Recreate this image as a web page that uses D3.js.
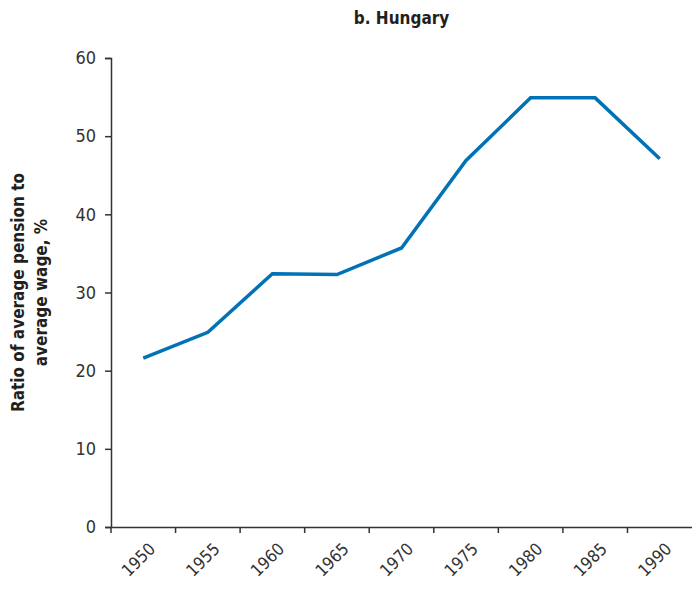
<!DOCTYPE html>
<html>
<head>
<meta charset="utf-8">
<script src="https://cdn.jsdelivr.net/npm/d3@7"></script>
<style>
  body { margin: 0; background: #fff; }
  svg text { font-family: "Liberation Sans Narrow", "DejaVu Sans Condensed", sans-serif; }
</style>
</head>
<body>
<div id="container"></div>
<script>
// values (panel b, Hungary)
var years = ["1950", "1955", "1960", "1965", "1970", "1975", "1980", "1985", "1990"];
var ratio = [21.6, 24.9, 32.4, 32.3, 35.7, 46.9, 54.9, 54.9, 47.1];
var yTicks = [0, 10, 20, 30, 40, 50, 60];

var width = 692, height = 590;
var margin = {top: 58, right: 0, bottom: 63, left: 111};

var data = years.map(function(y, i) { return {year: y, value: ratio[i]}; });

var svg = d3.select("#container").append("svg")
  .attr("width", width)
  .attr("height", height);

var xScale = d3.scaleBand().domain(years)
  .range([margin.left, width - margin.right])
  .paddingInner(0).paddingOuter(0);
var yScale = d3.scaleLinear().domain([0, 60])
  .range([height - margin.bottom, margin.top]);

var bw = xScale.bandwidth();

// title
svg.append("text")
  .attr("x", (margin.left + width - margin.right) / 2)
  .attr("y", 24)
  .attr("text-anchor", "middle")
  .style("font-size", "17px")
  .style("font-weight", "bold")
  .style("fill", "#231f20")
  .text("b. Hungary");

// y axis
var yAxis = d3.axisLeft(yScale).tickValues(yTicks).tickSize(6).tickPadding(9);
var gy = svg.append("g")
  .attr("transform", "translate(" + margin.left + ",0)")
  .call(yAxis);
gy.select(".domain").attr("stroke", "#333").attr("stroke-width", 1.5);
gy.selectAll(".tick line").attr("stroke", "#333").attr("stroke-width", 1.5);
gy.selectAll(".tick text")
  .style("font-size", "18px")
  .style("fill", "#333");

// x axis - ticks sit on band edges, labels on band centres
var xAxis = d3.axisBottom(xScale).tickSize(6).tickSizeOuter(0);
var gx = svg.append("g")
  .attr("transform", "translate(0," + (height - margin.bottom) + ")")
  .call(xAxis);
gx.select(".domain").attr("stroke", "#333").attr("stroke-width", 1.5);
gx.selectAll(".tick line")
  .attr("stroke", "#333").attr("stroke-width", 1.5)
  .attr("transform", "translate(" + (-bw / 2) + ",0)");
gx.selectAll(".tick text")
  .attr("x", 0).attr("y", 0).attr("dy", 0)
  .attr("text-anchor", "end")
  .attr("transform", "translate(13,23) rotate(-45)")
  .style("font-size", "17px")
  .style("fill", "#333");

// y label
var yl = svg.append("text")
  .attr("transform", "translate(24," + yScale(30) + ") rotate(-90)")
  .attr("text-anchor", "middle")
  .style("font-size", "17px")
  .style("font-weight", "bold")
  .style("fill", "#231f20");
yl.append("tspan").attr("x", 0).attr("dy", 0).text("Ratio of average pension to");
yl.append("tspan").attr("x", 0).attr("dy", "1.35em").text("average wage, %");

// line
var line = d3.line()
  .x(function(d) { return xScale(d.year) + bw / 2; })
  .y(function(d) { return yScale(d.value); });

svg.append("path")
  .datum(data)
  .attr("fill", "none")
  .attr("stroke", "#0072b5")
  .attr("stroke-width", 3.5)
  .attr("stroke-linejoin", "miter")
  .attr("d", line);
</script>
</body>
</html>
